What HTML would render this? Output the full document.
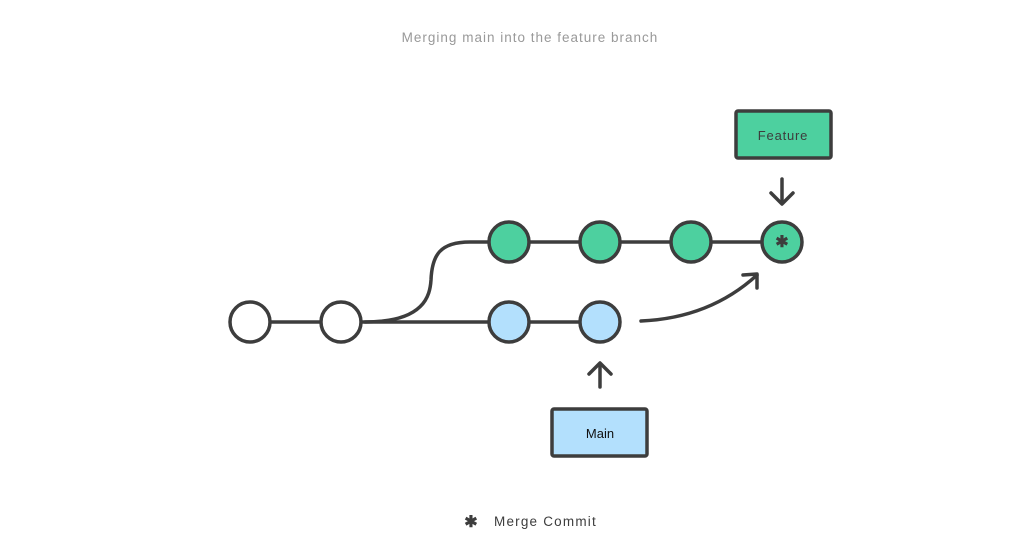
<!DOCTYPE html>
<html><head><style>body{margin:0;background:#fff;}svg{display:block}</style></head>
<body>
<svg width="1021" height="557" xmlns="http://www.w3.org/2000/svg" font-family="Liberation Sans, sans-serif">
<text x="530" y="42" text-anchor="middle" font-size="13.5" fill="#999" letter-spacing="1">Merging main into the feature branch</text>
<g stroke="#3d3d3d" stroke-width="3.5" fill="none" stroke-linecap="round" stroke-linejoin="round">
<line x1="270" y1="322" x2="580" y2="322"/>
<line x1="490" y1="242" x2="762" y2="242"/>
<path d="M365,322 C425,322 430,295 431,280 C432,255 440,242 470,242 L490,242"/>
<path d="M641,321 Q710,318 757,275"/>
<polyline points="743,275 757,274 757,288"/>
<line x1="782" y1="179" x2="782" y2="203"/>
<polyline points="771,193 782,204 793,193"/>
<line x1="600" y1="364" x2="600" y2="387"/>
<polyline points="589,374 600,363 611,374"/>
</g>
<g stroke="#3d3d3d" stroke-width="3.5">
<circle cx="250" cy="322" r="20" fill="#fff"/>
<circle cx="341" cy="322" r="20" fill="#fff"/>
<circle cx="509" cy="322" r="20" fill="#b3e0fd"/>
<circle cx="600" cy="322" r="20" fill="#b3e0fd"/>
<circle cx="509" cy="242" r="20" fill="#4dd09f"/>
<circle cx="600" cy="242" r="20" fill="#4dd09f"/>
<circle cx="691" cy="242" r="20" fill="#4dd09f"/>
<circle cx="782" cy="242" r="20" fill="#4dd09f"/>
<rect x="736" y="111" width="95" height="47" rx="2" fill="#4dd09f"/>
<rect x="552" y="409" width="95" height="47" rx="2" fill="#b3e0fd"/>
</g>
<text x="782" y="243" text-anchor="middle" dominant-baseline="middle" font-size="16" font-weight="bold" fill="#3d3d3d">✱</text>
<text x="783" y="140" text-anchor="middle" font-size="13" fill="#3d3d3d" letter-spacing="0.8">Feature</text>
<text x="600" y="438" text-anchor="middle" font-size="13" fill="#111">Main</text>
<text x="471" y="527" text-anchor="middle" font-size="16" font-weight="bold" fill="#3d3d3d">✱</text>
<text x="494" y="526" font-size="13.5" fill="#3d3d3d" letter-spacing="1.2">Merge Commit</text>
</svg>
</body></html>
